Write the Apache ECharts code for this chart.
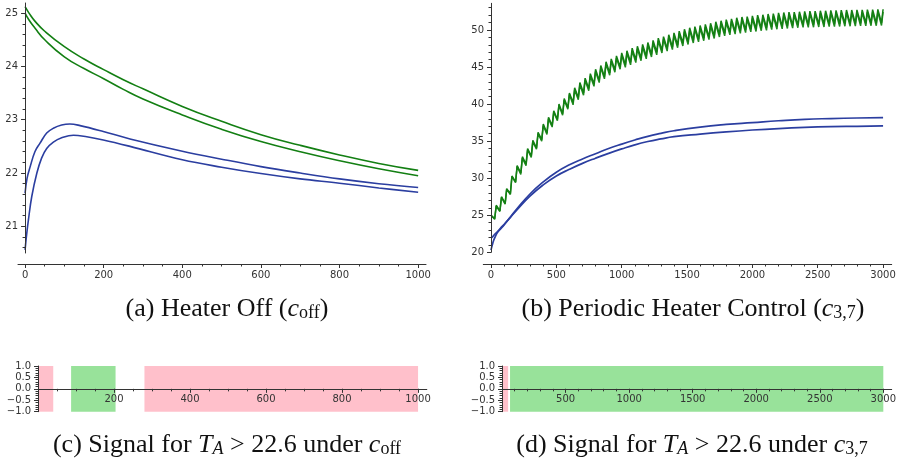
<!DOCTYPE html>
<html><head><meta charset="utf-8">
<script src="https://cdn.jsdelivr.net/npm/echarts@6/dist/echarts.min.js"></script>
<style>html,body{margin:0;padding:0;background:#fff}#c{width:901px;height:466px}</style>
</head><body><div id="c"></div><script>
// ---------- Tick labels ----------
const aMajorX = [0, 200, 400, 600, 800, 1000];
const aMajorY = [21, 22, 23, 24, 25];
const bMajorX = [0, 500, 1000, 1500, 2000, 2500, 3000];
const bMajorY = [20, 25, 30, 35, 40, 45, 50];
const cMajorX = [200, 400, 600, 800, 1000];
const dMajorX = [500, 1000, 1500, 2000, 2500, 3000];
const sigMajorY = [-1, -0.5, 0, 0.5, 1];

// ---------- (a) Heater Off ----------
const aGreenT = [0, 10, 25, 50, 100, 150, 200, 250, 300, 400, 500, 600, 700, 800, 900, 1000];
const aGreen1 = [25.12, 25.0, 24.85, 24.66, 24.37, 24.14, 23.94, 23.75, 23.58, 23.25, 22.97, 22.72, 22.52, 22.34, 22.18, 22.05];
const aGreen2 = [25.0, 24.87, 24.72, 24.5, 24.18, 23.96, 23.77, 23.57, 23.39, 23.09, 22.82, 22.59, 22.40, 22.23, 22.08, 21.95];
const aBlue1T = [0, 5, 13, 25, 38, 55, 72, 93, 114, 140, 199, 267, 400, 500, 600, 700, 800, 900, 1000];
const aBlue1 = [21.62, 21.9, 22.12, 22.40, 22.56, 22.75, 22.84, 22.90, 22.92, 22.89, 22.78, 22.64, 22.41, 22.26, 22.12, 22.0, 21.89, 21.8, 21.73];
const aBlue2T = [0, 4, 8.5, 17, 30, 42, 55, 72, 93, 123, 157, 199, 267, 400, 500, 600, 700, 800, 900, 1000];
const aBlue2 = [20.56, 20.85, 21.12, 21.56, 22.0, 22.28, 22.46, 22.58, 22.66, 22.71, 22.68, 22.62, 22.50, 22.25, 22.11, 21.99, 21.89, 21.81, 21.72, 21.64];

// ---------- (b) Periodic heater control: alternating start, trough, peak, trough, peak ... ----------
const bGreen1 = [25.0, 24.55, 26.35, 25.6, 27.5, 26.6, 28.6, 27.9, 30.3, 29.5, 31.7, 30.7, 32.9, 31.9, 34.0, 33.0, 35.1, 34.1, 36.2, 35.2, 37.3, 36.1, 38.2, 37.1, 39.1, 37.95, 40.0, 38.7, 40.75, 39.5, 41.5, 40.2, 42.2, 40.9, 42.9, 41.5, 43.5, 42.1, 44.1, 42.7, 44.7, 43.2, 45.2, 43.7, 45.7, 44.2, 46.1, 44.6, 46.5, 45.0, 46.9, 45.3, 47.2, 45.65, 47.55, 45.95, 47.8, 46.2, 48.05, 46.45, 48.3, 46.7, 48.6, 47.0, 48.9, 47.25, 49.1, 47.5, 49.35, 47.7, 49.6, 47.95, 49.85, 48.2, 50.1, 48.4, 50.3, 48.6, 50.45, 48.75, 50.6, 48.9, 50.75, 49.05, 50.9, 49.2, 51.1, 49.4, 51.25, 49.55, 51.4, 49.7, 51.5, 49.8, 51.65, 49.9, 51.75, 50.0, 51.8, 50.1, 51.9, 50.15, 52.0, 50.25, 52.05, 50.3, 52.15, 50.4, 52.2, 50.45, 52.3, 50.5, 52.35, 50.55, 52.4, 50.6, 52.4, 50.65, 52.45, 50.7, 52.5, 50.7, 52.55, 50.72, 52.55, 50.75, 52.6, 50.75, 52.6, 50.8, 52.65, 50.8, 52.65, 50.82, 52.68, 50.85, 52.7, 50.85, 52.7, 50.88, 52.72, 50.9, 52.72, 50.9, 52.75, 50.92, 52.75, 50.92, 52.78, 50.95, 52.8];
const bGreen2 = [25.0, 24.45, 26.25, 25.5, 27.4, 26.5, 28.5, 27.8, 30.2, 29.4, 31.6, 30.5, 32.7, 31.7, 33.8, 32.8, 34.9, 33.9, 36.0, 35.0, 37.1, 35.9, 38.0, 36.9, 38.9, 37.75, 39.8, 38.5, 40.55, 39.3, 41.3, 39.9, 41.9, 40.6, 42.6, 41.2, 43.2, 41.8, 43.8, 42.4, 44.4, 42.9, 44.9, 43.4, 45.4, 43.9, 45.8, 44.3, 46.2, 44.7, 46.6, 44.95, 46.85, 45.3, 47.2, 45.6, 47.45, 45.85, 47.7, 46.1, 47.95, 46.35, 48.25, 46.65, 48.55, 46.9, 48.75, 47.15, 49.0, 47.35, 49.25, 47.6, 49.5, 47.85, 49.75, 48.05, 49.95, 48.25, 50.1, 48.4, 50.25, 48.55, 50.4, 48.7, 50.55, 48.85, 50.75, 49.05, 50.9, 49.2, 51.05, 49.35, 51.15, 49.45, 51.3, 49.55, 51.4, 49.65, 51.45, 49.75, 51.55, 49.8, 51.65, 49.9, 51.7, 49.95, 51.8, 50.05, 51.85, 50.1, 51.95, 50.15, 52.0, 50.2, 52.05, 50.25, 52.05, 50.3, 52.1, 50.35, 52.15, 50.35, 52.2, 50.37, 52.2, 50.4, 52.25, 50.4, 52.25, 50.45, 52.3, 50.45, 52.3, 50.47, 52.33, 50.5, 52.35, 50.5, 52.35, 50.53, 52.37, 50.55, 52.37, 50.55, 52.4, 50.57, 52.4, 50.57, 52.43, 50.6, 52.45];
const bPeriod = 40, bOffPhase = 28;
const bBlueT = [0, 10, 20, 30, 50, 75, 100, 150, 200, 300, 400, 500, 600, 700, 800, 900, 1000, 1100, 1200, 1300, 1400, 1600, 1800, 2000, 2200, 2400, 2600, 2800, 3000];
const bBlue1 = [20.3, 21.0, 21.6, 22.0, 22.7, 23.2, 23.7, 24.8, 25.9, 27.9, 29.5, 30.8, 31.8, 32.6, 33.3, 34.0, 34.6, 35.15, 35.65, 36.05, 36.4, 36.9, 37.25, 37.5, 37.75, 37.95, 38.05, 38.12, 38.17];
const bBlue2 = [21.9, 22.05, 22.25, 22.45, 22.8, 23.3, 23.75, 24.75, 25.75, 27.6, 29.1, 30.3, 31.2, 32.0, 32.7, 33.35, 33.95, 34.5, 34.95, 35.3, 35.6, 35.95, 36.25, 36.5, 36.7, 36.85, 36.95, 37.0, 37.05];

// ---------- (c),(d) signal intervals [from, to] ----------
const cPink = [[0, 40], [280, 1000]];
const cGreen = [[87, 204]];
const dPink = [[0, 48]];
const dGreen = [[63, 3000]];

// ---------- helpers ----------
function rng(a, b, s) { const r = []; for (let v = a; v <= b + 1e-9; v += s) r.push(Math.round(v * 1000) / 1000); return r; }
function zip(t, v) { return v.map((y, i) => [t[i], y]); }
function sawTimes(n) { const t = [0]; for (let k = 0; t.length < n; k++) { t.push(k * bPeriod + bOffPhase); if (t.length < n) t.push((k + 1) * bPeriod); } return t; }

const AX = '#333';
const LBL = { color: '#333', fontSize: 10, fontFamily: 'DejaVu Sans' };
const fmtPlain = v => String(v);
const fmtSig = v => (v < 0 ? '\u2212' : '') + Math.abs(v).toFixed(1);

const G = [
  { left: 18, top: 3, width: 408, height: 250, xmin: -18, xmax: 1020, ymin: 20.5, ymax: 25.19, xOff: 11, majX: aMajorX, minX: rng(0, 1000, 50), majY: aMajorY, minY: rng(20.6, 25.0, 0.2), yfmt: fmtPlain },
  { left: 483.3, top: 3.3, width: 408.4, height: 249, xmin: -59, xmax: 3066, ymin: 20, ymax: 53.6, xOff: 11.7, majX: bMajorX, minX: rng(0, 3000, 100), majY: bMajorY, minY: rng(20, 53, 1), yfmt: fmtPlain },
  { left: 35, top: 366, width: 391.8, height: 45.7, xmin: -8, xmax: 1023, ymin: -1, ymax: 1, xOff: -22.85, majX: cMajorX, minX: rng(0, 1000, 50), majY: sigMajorY, minY: rng(-1, 1, 0.1), yfmt: fmtSig },
  { left: 500, top: 366, width: 391.7, height: 45.7, xmin: -16, xmax: 3066, ymin: -1, ymax: 1, xOff: -22.85, majX: dMajorX, minX: rng(0, 3000, 100), majY: sigMajorY, minY: rng(-1, 1, 0.1), yfmt: fmtSig }
];

const grid = [], xAxis = [], yAxis = [];
G.forEach((g, i) => {
  grid.push({ left: g.left, top: g.top, width: g.width, height: g.height, containLabel: false });
  const yOff = -(-g.xmin) / (g.xmax - g.xmin) * g.width;
  xAxis.push(
    { type: 'value', gridIndex: i, min: g.xmin, max: g.xmax, position: 'bottom', offset: g.xOff, z: 10,
      axisLine: { onZero: false, lineStyle: { color: AX, width: 1 } },
      axisTick: { customValues: g.majX, length: 4, lineStyle: { color: AX } },
      axisLabel: Object.assign({ customValues: g.majX, margin: 6, formatter: fmtPlain }, LBL), splitLine: { show: false } },
    { type: 'value', gridIndex: i, min: g.xmin, max: g.xmax, position: 'bottom', offset: g.xOff, z: 10,
      axisLine: { show: false, onZero: false },
      axisTick: { customValues: g.minX, length: 2.5, lineStyle: { color: AX } },
      axisLabel: { show: false }, splitLine: { show: false } }
  );
  yAxis.push(
    { type: 'value', gridIndex: i, min: g.ymin, max: g.ymax, position: 'left', offset: yOff, z: 10,
      axisLine: { show: true, onZero: false, lineStyle: { color: AX, width: 1 } },
      axisTick: { show: true, customValues: g.majY, length: 4, lineStyle: { color: AX } },
      axisLabel: Object.assign({ customValues: g.majY, margin: 7, formatter: g.yfmt }, LBL), splitLine: { show: false } },
    { type: 'value', gridIndex: i, min: g.ymin, max: g.ymax, position: 'left', offset: yOff, z: 10,
      axisLine: { show: false, onZero: false },
      axisTick: { show: true, customValues: g.minY, length: 2.5, lineStyle: { color: AX } },
      axisLabel: { show: false }, splitLine: { show: false } }
  );
});

const GREEN = '#137f13', BLUE = '#2b3ea0';
function line(gi, data, color, w, smooth) {
  return { type: 'line', xAxisIndex: gi * 2, yAxisIndex: gi * 2, data, showSymbol: false, symbol: 'none',
    smooth: smooth, lineStyle: { color, width: w }, silent: true, animation: false, z: 3 };
}
function areas(list, color) {
  return list.map(r => [{ xAxis: r[0], yAxis: -1, itemStyle: { color } }, { xAxis: r[1], yAxis: 1 }]);
}
function sigSeries(gi, pink, green) {
  return { type: 'line', xAxisIndex: gi * 2, yAxisIndex: gi * 2, data: [], symbol: 'none', silent: true, animation: false,
    markArea: { silent: true, animation: false, data: areas(pink, '#ffc0cb').concat(areas(green, '#98e29a')) } };
}

const series = [
  line(0, zip(aGreenT, aGreen1), GREEN, 1.6, 0.5),
  line(0, zip(aGreenT, aGreen2), GREEN, 1.6, 0.5),
  line(0, zip(aBlue1T, aBlue1), BLUE, 1.6, 0.4),
  line(0, zip(aBlue2T, aBlue2), BLUE, 1.6, 0.4),
  line(1, zip(bBlueT, bBlue1), BLUE, 1.7, 0.5),
  line(1, zip(bBlueT, bBlue2), BLUE, 1.7, 0.5),
  line(1, zip(sawTimes(bGreen2.length), bGreen2), '#1f8a1f', 1.5, false),
  line(1, zip(sawTimes(bGreen1.length), bGreen1), GREEN, 1.5, false),
  sigSeries(2, cPink, cGreen),
  sigSeries(3, dPink, dGreen)
];

const SERIF = 'Liberation Serif';
const FS = 26;
const base = { fontFamily: SERIF, color: '#111', fontWeight: 'normal' };
const rich = {
  n: Object.assign({ fontSize: FS, lineHeight: 28 }, base),
  i: Object.assign({ fontSize: FS, fontStyle: 'italic', lineHeight: 28 }, base),
  s: Object.assign({ fontSize: 18, lineHeight: 18, padding: [9, 0, 0, 0] }, base),
  si: Object.assign({ fontSize: 18, fontStyle: 'italic', lineHeight: 18, padding: [9, 0, 0, 0] }, base)
};
function cap(text, x, y) { return { text, left: x, top: y, textAlign: 'center', textStyle: { fontWeight: 'normal', rich } }; }

const chart = echarts.init(document.getElementById('c'), null, { renderer: 'canvas' });
chart.setOption({
  animation: false,
  backgroundColor: '#fff',
  title: [
    cap('{n|(a) Heater Off (}{i|c}{s|off}{n|)}', 222, 290),
    cap('{n|(b) Periodic Heater Control (}{i|c}{s|3,7}{n|)}', 688, 290),
    cap('{n|(c) Signal for }{i|T}{si|A}{n| > 22.6 under }{i|c}{s|off}', 222, 426),
    cap('{n|(d) Signal for }{i|T}{si|A}{n| > 22.6 under }{i|c}{s|3,7}', 687, 426)
  ],
  grid, xAxis, yAxis, series
});
</script></body></html>
